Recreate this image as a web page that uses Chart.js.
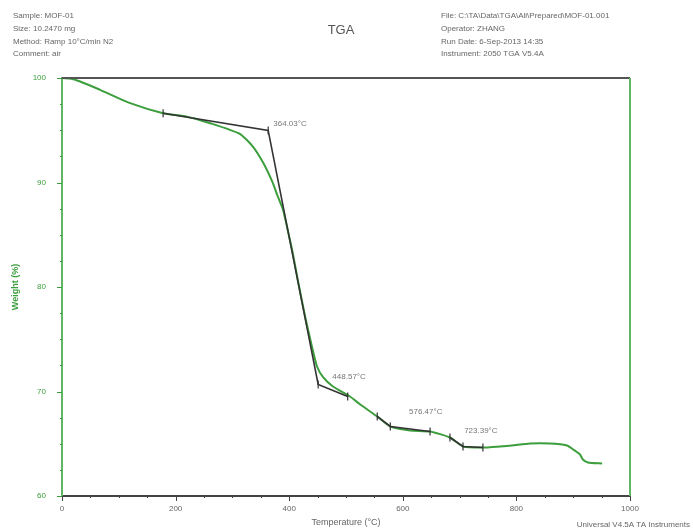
<!DOCTYPE html>
<html lang="en">
  <head>
    <meta charset="UTF-8" />
    <script src="https://cdn.jsdelivr.net/npm/chart.js@4.4.1/dist/chart.umd.min.js"></script>
    <title>TGA</title>
    <style>
      body { margin: 0; background: #fff; }
      #wrap { width: 693px; height: 532px; }
    </style>
  </head>
  <body>
    <div id="wrap"><canvas id="chart" width="693" height="532"></canvas></div>
    <script>
      // weight curve (°C, %)
      const tempC = [0, 22, 67, 120, 178, 220, 261, 313, 336, 354, 370, 380, 389, 396, 405, 416, 428, 440, 449, 460, 477, 507, 525, 555, 578, 613, 648, 683, 706, 741, 771, 792, 824, 859, 889, 900, 912, 917, 926, 951];
      const weightPct = [100, 99.86, 98.87, 97.59, 96.63, 96.3, 95.67, 94.65, 93.44, 91.91, 90.1, 88.66, 87.42, 85.79, 83.59, 80.43, 77.18, 74.31, 72.39, 71.34, 70.48, 69.52, 68.76, 67.61, 66.65, 66.27, 66.17, 65.6, 64.74, 64.64, 64.74, 64.83, 65.02, 65.02, 64.83, 64.45, 63.97, 63.49, 63.21, 63.11];

      // onset analysis lines
      const stepA_T = [178, 363, 451, 503];
      const stepA_W = [96.63, 94.98, 70.67, 69.52];
      const stepB_T = [555, 578, 648];
      const stepB_W = [67.61, 66.65, 66.17];
      const stepC_T = [683, 706, 741];
      const stepC_W = [65.6, 64.74, 64.64];

      const onsetLabels = ["364.03°C", "448.57°C", "576.47°C", "723.39°C"];
      const onsetLabelAt = [[372, 95.6], [476, 71.4], [611, 68.1], [708, 66.2]];

      const xTicks = [0, 200, 400, 600, 800, 1000];
      const yTicks = [60, 70, 80, 90, 100];

      const headerLeft = ["Sample: MOF-01", "Size: 10.2470 mg", "Method: Ramp 10°C/min N2", "Comment: air"];
      const headerRight = ["File: C:\\TA\\Data\\TGA\\Ali\\Prepared\\MOF-01.001", "Operator: ZHANG", "Run Date: 6-Sep-2013 14:35", "Instrument: 2050 TGA V5.4A"];

      const green = "#3c9e3c";
      const axisGreen = "#62b562";
      const dark = "#333";

      const pts = (xs, ys) => xs.map((x, i) => ({ x, y: ys[i] }));

      const extras = {
        id: "extras",
        afterDraw(chart) {
          const { ctx, chartArea: a, scales } = chart;
          const xs = scales.x, ys = scales.y;
          ctx.save();
          // top border + right border
          ctx.lineWidth = 2;
          ctx.strokeStyle = "#555";
          ctx.beginPath();
          ctx.moveTo(a.left, a.top);
          ctx.lineTo(a.right, a.top);
          ctx.stroke();
          ctx.strokeStyle = axisGreen;
          ctx.beginPath();
          ctx.moveTo(a.right, a.top);
          ctx.lineTo(a.right, a.bottom);
          ctx.stroke();
          // ticks on x
          ctx.lineWidth = 1;
          ctx.strokeStyle = "#444";
          for (let v = 0; v <= 1000; v += 50) {
            const px = Math.round(xs.getPixelForValue(v)) + 0.5;
            const len = v % 200 === 0 ? 5 : 2;
            ctx.beginPath();
            ctx.moveTo(px, a.bottom);
            ctx.lineTo(px, a.bottom + len);
            ctx.stroke();
          }
          // ticks on y
          ctx.strokeStyle = green;
          for (let v = 60; v <= 100; v += 2.5) {
            const py = Math.round(ys.getPixelForValue(v)) + 0.5;
            const len = v % 10 === 0 ? 5 : 2;
            ctx.beginPath();
            ctx.moveTo(a.left, py);
            ctx.lineTo(a.left - len, py);
            ctx.stroke();
          }
          // onset labels
          ctx.font = "8px 'Liberation Sans'";
          ctx.fillStyle = "#777";
          ctx.textBaseline = "middle";
          ctx.textAlign = "left";
          onsetLabels.forEach((t, i) => {
            ctx.fillText(t, xs.getPixelForValue(onsetLabelAt[i][0]), ys.getPixelForValue(onsetLabelAt[i][1]));
          });
          // header blocks
          ctx.font = "8px 'Liberation Sans'";
          ctx.fillStyle = "#666";
          headerLeft.forEach((t, i) => ctx.fillText(t, 13, 16 + i * 12.7));
          headerRight.forEach((t, i) => ctx.fillText(t, 441, 16 + i * 12.7));
          ctx.font = "13px 'Liberation Sans'";
          ctx.fillStyle = "#555";
          ctx.textAlign = "center";
          ctx.fillText("TGA", 341, 30);
          ctx.font = "8px 'Liberation Sans'";
          ctx.fillStyle = "#666";
          ctx.textAlign = "right";
          ctx.fillText("Universal V4.5A TA Instruments", 690, 525);
          ctx.restore();
        },
      };

      const ctx = document.getElementById("chart").getContext("2d");
      new Chart(ctx, {
        type: "scatter",
        data: {
          datasets: [
            { data: pts(stepA_T, stepA_W), showLine: true, borderColor: dark, borderWidth: 1.6, pointStyle: "line", rotation: 90, pointRadius: 4, pointBorderColor: dark, pointBorderWidth: 1.2 },
            { data: pts(stepB_T, stepB_W), showLine: true, borderColor: dark, borderWidth: 1.6, pointStyle: "line", rotation: 90, pointRadius: 4, pointBorderColor: dark, pointBorderWidth: 1.2 },
            { data: pts(stepC_T, stepC_W), showLine: true, borderColor: dark, borderWidth: 1.6, pointStyle: "line", rotation: 90, pointRadius: 4, pointBorderColor: dark, pointBorderWidth: 1.2 },
            { data: pts(tempC, weightPct), showLine: true, borderColor: green, borderWidth: 2, pointRadius: 0, tension: 0.2 },
          ],
        },
        options: {
          responsive: false,
          animation: false,
          layout: { padding: { left: 0, top: 78, right: 63, bottom: 0 } },
          plugins: { legend: { display: false }, tooltip: { enabled: false } },
          scales: {
            x: {
              type: "linear", min: 0, max: 1000,
              afterFit: (s) => { s.height = 36; },
              afterBuildTicks: (s) => { s.ticks = xTicks.map((v) => ({ value: v })); },
              grid: { display: false },
              border: { color: "#444", width: 2 },
              ticks: { color: "#666", font: { family: "Liberation Sans", size: 8 }, padding: 0, maxRotation: 0, callback: (v) => String(v) },
              title: { display: true, text: "Temperature (°C)", color: "#666", font: { family: "Liberation Sans", size: 9 }, padding: { top: 0, bottom: 4 } },
            },
            y: {
              type: "linear", min: 60, max: 100,
              afterFit: (s) => { s.width = 62; },
              afterBuildTicks: (s) => { s.ticks = yTicks.map((v) => ({ value: v })); },
              grid: { display: false },
              border: { color: axisGreen, width: 2 },
              ticks: { color: green, font: { family: "Liberation Sans", size: 8 }, padding: 8 },
              title: { display: true, text: "Weight (%)", color: green, font: { family: "Liberation Sans", size: 9, weight: "bold" }, padding: { top: 10, bottom: 6 } },
            },
          },
        },
        plugins: [extras],
      });
    </script>
  </body>
</html>
